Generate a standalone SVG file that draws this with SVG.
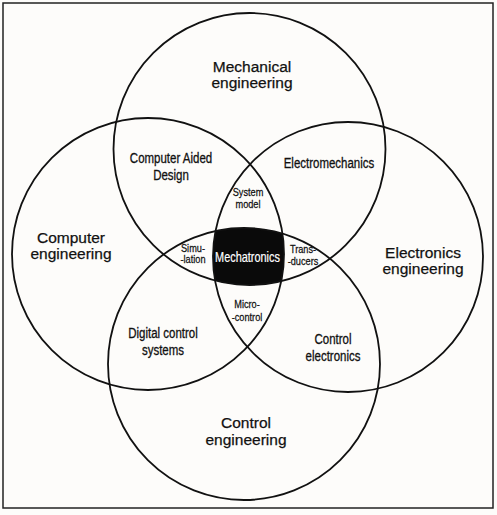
<svg xmlns="http://www.w3.org/2000/svg" width="497" height="515" viewBox="0 0 497 515">
<style>
.c{fill:none;stroke:#111;stroke-width:1.8}
.big{font-family:"Liberation Sans",Arial,sans-serif;font-size:15.5px;fill:#111;text-anchor:middle;stroke:#111;stroke-width:0.25}
.mid{font-family:"Liberation Sans",Arial,sans-serif;font-size:14px;fill:#111;text-anchor:middle;stroke:#111;stroke-width:0.3}
.sm{font-family:"Liberation Sans",Arial,sans-serif;font-size:11.5px;fill:#111;text-anchor:middle;stroke:#111;stroke-width:0.25}
.wh{fill:#fff;stroke:#fff;stroke-width:0.2}
</style>
<defs>
<clipPath id="cA"><circle cx="249.5" cy="149" r="136"/></clipPath>
<clipPath id="cB"><circle cx="148" cy="254" r="136"/></clipPath>
<clipPath id="cC"><circle cx="348" cy="257" r="135"/></clipPath>
</defs>
<rect x="0" y="0" width="497" height="515" fill="#fdfcfa"/>
<rect x="3" y="3" width="490" height="505" fill="none" stroke="#222" stroke-width="1.5"/>
<g id="core">
<g clip-path="url(#cA)"><g clip-path="url(#cB)"><g clip-path="url(#cC)">
<circle cx="244" cy="364" r="136" fill="#0a0a0a"/>
</g></g></g>
</g>
<g id="circles">
<circle id="mechanical" class="c" cx="249.5" cy="149" r="136"/>
<circle id="computer" class="c" cx="148" cy="254" r="136"/>
<circle id="electronics" class="c" cx="348" cy="257" r="135"/>
<circle id="control" class="c" cx="244" cy="364" r="136"/>
</g>
<g id="labels">
<text class="big" x="252" y="72">Mechanical</text>
<text class="big" x="252" y="88">engineering</text>
<text class="big" x="71" y="243">Computer</text>
<text class="big" x="71" y="259">engineering</text>
<text class="big" x="423" y="258">Electronics</text>
<text class="big" x="423" y="274">engineering</text>
<text class="big" x="246" y="428">Control</text>
<text class="big" x="246" y="445">engineering</text>
<g transform="translate(171,0) scale(0.82,1)"><text class="mid" x="0" y="163">Computer Aided</text><text class="mid" x="0" y="180">Design</text></g>
<g transform="translate(329,0) scale(0.82,1)"><text class="mid" x="0" y="168">Electromechanics</text></g>
<g transform="translate(163,0) scale(0.82,1)"><text class="mid" x="0" y="338">Digital control</text><text class="mid" x="0" y="355">systems</text></g>
<g transform="translate(333,0) scale(0.82,1)"><text class="mid" x="0" y="344">Control</text><text class="mid" x="0" y="361">electronics</text></g>
<g transform="translate(248,0) scale(0.8,1)"><text class="sm" x="0" y="196">System</text><text class="sm" x="0" y="208">model</text></g>
<g transform="translate(193,0) scale(0.8,1)"><text class="sm" x="0" y="252">Simu-</text><text class="sm" x="0" y="263">-lation</text></g>
<g transform="translate(303,0) scale(0.8,1)"><text class="sm" x="0" y="253">Trans-</text><text class="sm" x="0" y="265">-ducers</text></g>
<g transform="translate(247,0) scale(0.8,1)"><text class="sm" x="0" y="308">Micro-</text><text class="sm" x="0" y="321">-control</text></g>
<g transform="translate(247.5,0) scale(0.78,1)"><text class="mid wh" x="0" y="262">Mechatronics</text></g>
</g>
</svg>
